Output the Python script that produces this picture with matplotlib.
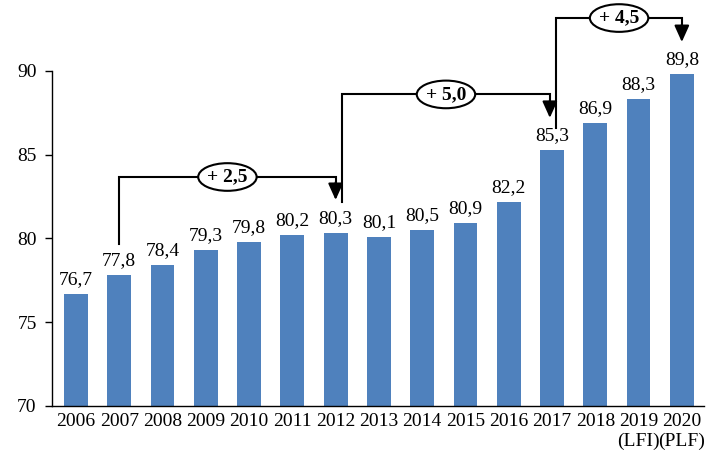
import matplotlib
matplotlib.use("Agg")
import matplotlib.pyplot as plt
from matplotlib.patches import Ellipse

plt.rcParams['font.family'] = ['Liberation Serif', 'DejaVu Serif']

years = ['2006', '2007', '2008', '2009', '2010', '2011', '2012', '2013',
         '2014', '2015', '2016', '2017', '2018', '2019\n(LFI)', '2020\n(PLF)']
values = [76.7, 77.8, 78.4, 79.3, 79.8, 80.2, 80.3, 80.1,
          80.5, 80.9, 82.2, 85.3, 86.9, 88.3, 89.8]
value_labels = [f"{v:.1f}".replace('.', ',') for v in values]

# brackets: (start bar, end bar, increase label)
gaps = [(1, 6, '+ 2,5'), (6, 11, '+ 5,0'), (11, 14, '+ 4,5')]

fig = plt.figure(figsize=(7.19, 4.70), dpi=100)
ax = fig.add_axes([0.0723, 0.1362, 0.9067, 0.7128])

x = list(range(len(years)))
ax.bar(x, values, width=0.55, color='#4F81BD', bottom=0)
for xi, v, lab in zip(x, values, value_labels):
    ax.text(xi, v + 0.35, lab, ha='center', va='bottom', fontsize=14)

ax.set_ylim(70, 90)
ax.set_xlim(-0.554, 14.51)
ax.set_yticks([70, 75, 80, 85, 90])
ax.set_xticks(x)
ax.set_xticklabels(years, fontsize=14)
ax.tick_params(axis='y', labelsize=14, length=5, width=1, direction='out', pad=6)
ax.tick_params(axis='x', length=0, pad=5)
for s in ['top', 'right']:
    ax.spines[s].set_visible(False)
for s in ['left', 'bottom']:
    ax.spines[s].set_linewidth(1)

# bracket geometry in data units
brackets = [
    # left x, left start y, top y, right x, arrow tip y
    (1.0, 79.7, 83.67, 6.0, 82.3),
    (6.15, 82.2, 88.6, 10.95, 87.2),
    (11.1, 86.6, 93.16, 14.0, 91.73),
]
for (lx, ly, ty, rx, tip), (_, _, lab) in zip(brackets, gaps):
    ax.plot([lx, lx, rx, rx], [ly, ty, ty, tip + 1.0], color='black', lw=1.5,
            clip_on=False, solid_joinstyle='miter')
    ax.annotate('', xy=(rx, tip), xytext=(rx, tip + 1.05),
                arrowprops=dict(arrowstyle='-|>,head_length=1.0,head_width=0.45',
                                color='black', lw=1.5, shrinkA=0, shrinkB=0),
                annotation_clip=False)
    cx = (lx + rx) / 2
    ax.add_patch(Ellipse((cx, ty), 1.35, 1.65, fc='white', ec='black', lw=1.5,
                         clip_on=False, zorder=4))
    ax.text(cx, ty, lab, ha='center', va='center', fontsize=14,
            fontweight='bold', clip_on=False, zorder=5)

fig.savefig('out.png', dpi=100)
